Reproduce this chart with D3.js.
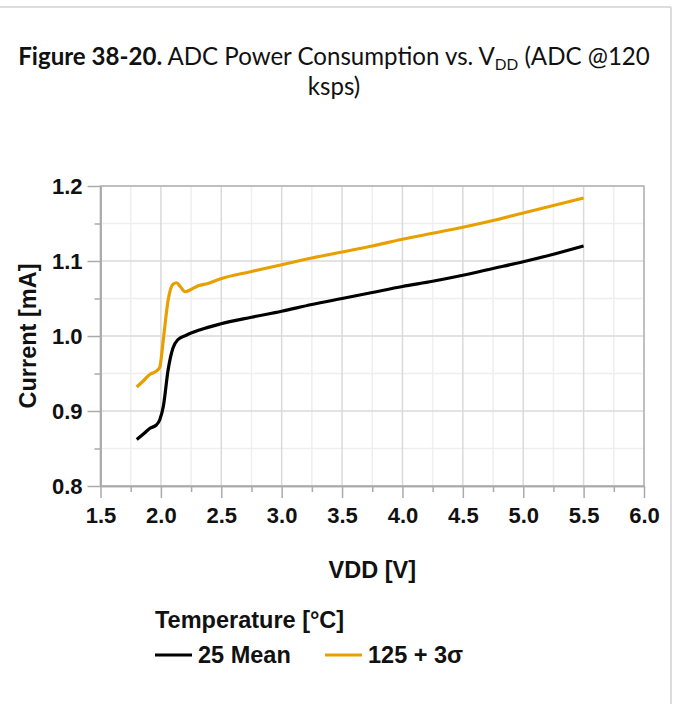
<!DOCTYPE html>
<html>
<head>
<meta charset="utf-8">
<script src="https://cdn.jsdelivr.net/npm/d3@7"></script>
<style>
  html, body { margin: 0; padding: 0; background: #fff; }
  svg { display: block; }
</style>
</head>
<body>
<svg id="chart" width="673" height="704"></svg>
<script>
// ---- data ----
const seriesNames = ["25 Mean", "125 + 3σ"];
const seriesColors = ["#000000", "#E8A000"];
const vdd25 = [1.80,1.86,1.91,1.96,1.99,2.02,2.06,2.10,2.14,2.21,2.32,2.49,2.75,3.0,3.25,3.5,3.75,4.0,4.25,4.5,4.75,5.0,5.25,5.5];
const cur25 = [0.862,0.870,0.877,0.881,0.888,0.906,0.955,0.984,0.995,1.001,1.008,1.016,1.025,1.033,1.042,1.050,1.058,1.066,1.073,1.081,1.090,1.099,1.109,1.120];
const vdd125 = [1.80,1.86,1.91,1.95,1.99,2.02,2.06,2.10,2.13,2.16,2.20,2.25,2.31,2.39,2.49,2.75,3.0,3.25,3.5,3.75,4.0,4.25,4.5,4.75,5.0,5.25,5.5];
const cur125 = [0.932,0.941,0.949,0.952,0.958,0.995,1.048,1.069,1.071,1.066,1.059,1.062,1.067,1.070,1.076,1.086,1.095,1.104,1.112,1.120,1.129,1.137,1.145,1.154,1.164,1.174,1.184];
const xMajorTicks = [1.5,2.0,2.5,3.0,3.5,4.0,4.5,5.0,5.5,6.0];
const xMinorTicks = [1.75,2.25,2.75,3.25,3.75,4.25,4.75,5.25,5.75];
const yMajorTicks = [0.8,0.9,1.0,1.1,1.2];
const yMinorTicks = [0.85,0.95,1.05,1.15];

const svg = d3.select("#chart");
const W = 673, H = 704;
const plot = {left: 100.5, right: 644, top: 186, bottom: 486};

// frame
svg.append("line").attr("x1",0).attr("x2",671).attr("y1",7).attr("y2",7).attr("stroke","#dcdcdc").attr("stroke-width",2);
svg.append("line").attr("x1",671).attr("x2",671).attr("y1",7).attr("y2",H).attr("stroke","#dcdcdc").attr("stroke-width",2);

// title
const titleFont = "Lato, 'Open Sans', sans-serif";
const t1 = svg.append("text").attr("x", 334).attr("y", 65).attr("text-anchor","middle")
  .style("font-family", titleFont).style("font-size","22px").attr("fill","#111");
t1.append("tspan").attr("font-weight","bold").text("Figure 38-20.");
t1.append("tspan").text(" ADC Power Consumption vs. V");
t1.append("tspan").attr("dy", 5).style("font-size","14px").text("DD");
t1.append("tspan").attr("dy", -5).text(" (ADC @120");
// fit width
const w1 = t1.node().getComputedTextLength();
const fs = 22 * 632 / w1;
t1.style("font-size", fs + "px");
t1.selectAll("tspan").filter((d,i)=>i===2).style("font-size", (fs*0.64)+"px");
svg.append("text").attr("x", 334).attr("y", 95).attr("text-anchor","middle")
  .style("font-family", titleFont).style("font-size", fs+"px").attr("fill","#111").text("ksps)");

// scales
const x = d3.scaleLinear().domain([1.5, 6.0]).range([plot.left, plot.right]);
const y = d3.scaleLinear().domain([0.8, 1.2]).range([plot.bottom, plot.top]);

// grid
const g = svg.append("g");
g.selectAll(".vminor").data(xMinorTicks).enter().append("line")
  .attr("x1", d=>x(d)).attr("x2", d=>x(d)).attr("y1", plot.top).attr("y2", plot.bottom)
  .attr("stroke", "#efefef").attr("stroke-width", 1.5);
g.selectAll(".hminor").data(yMinorTicks).enter().append("line")
  .attr("y1", d=>y(d)).attr("y2", d=>y(d)).attr("x1", plot.left).attr("x2", plot.right)
  .attr("stroke", "#efefef").attr("stroke-width", 1.5);
g.selectAll(".vmajor").data(xMajorTicks).enter().append("line")
  .attr("x1", d=>x(d)).attr("x2", d=>x(d)).attr("y1", plot.top).attr("y2", plot.bottom)
  .attr("stroke", "#dadada").attr("stroke-width", 1.5);
g.selectAll(".hmajor").data(yMajorTicks).enter().append("line")
  .attr("y1", d=>y(d)).attr("y2", d=>y(d)).attr("x1", plot.left).attr("x2", plot.right)
  .attr("stroke", "#dadada").attr("stroke-width", 1.5);
// plot border
svg.append("rect").attr("x", plot.left).attr("y", plot.top)
  .attr("width", plot.right-plot.left).attr("height", plot.bottom-plot.top)
  .attr("fill","none").attr("stroke","#b4b4b4").attr("stroke-width",1.5);

// axes
const tickFont = "'Liberation Sans', Arial, sans-serif";
function styleAxis(sel){
  sel.select(".domain").attr("stroke","#aaaaaa").attr("stroke-width",1.5);
  sel.selectAll(".tick line").attr("stroke","#aaaaaa").attr("stroke-width",1.5);
  sel.selectAll(".tick text").style("font-family", tickFont).style("font-size","22px")
    .style("font-weight","bold").attr("fill","#111");
}
const xAxis = svg.append("g").attr("transform", `translate(0,${plot.bottom})`)
  .call(d3.axisBottom(x).tickValues(xMajorTicks).tickFormat(d3.format(".1f")).tickSize(12).tickPadding(9).tickSizeOuter(0));
styleAxis(xAxis);
const xAxisMinor = svg.append("g").attr("transform", `translate(0,${plot.bottom})`)
  .call(d3.axisBottom(x).tickValues(xMinorTicks).tickFormat("").tickSize(6).tickSizeOuter(0));
styleAxis(xAxisMinor);
const yAxis = svg.append("g").attr("transform", `translate(${plot.left},0)`)
  .call(d3.axisLeft(y).tickValues(yMajorTicks).tickFormat(d3.format(".1f")).tickSize(13).tickPadding(5).tickSizeOuter(0));
styleAxis(yAxis);
const yAxisMinor = svg.append("g").attr("transform", `translate(${plot.left},0)`)
  .call(d3.axisLeft(y).tickValues(yMinorTicks).tickFormat("").tickSize(6).tickSizeOuter(0));
styleAxis(yAxisMinor);

// axis titles
const titleSize = "23.5px";
svg.append("text").attr("x", (plot.left+plot.right)/2).attr("y", 578).attr("text-anchor","middle")
  .style("font-family", tickFont).style("font-size",titleSize).style("font-weight","bold").attr("fill","#111")
  .text("VDD [V]");
svg.append("text").attr("transform", `translate(36,${(plot.top+plot.bottom)/2}) rotate(-90)`).attr("text-anchor","middle")
  .style("font-family", tickFont).style("font-size",titleSize).style("font-weight","bold").attr("fill","#111")
  .text("Current [mA]");

// lines
const line = d3.line().x(d=>x(d[0])).y(d=>y(d[1])).curve(d3.curveMonotoneX);
const series = [
  {name: seriesNames[0], color: seriesColors[0], pts: d3.zip(vdd25, cur25)},
  {name: seriesNames[1], color: seriesColors[1], pts: d3.zip(vdd125, cur125)}
];
svg.selectAll(".series").data(series).enter().append("path")
  .attr("d", d=>line(d.pts)).attr("fill","none").attr("stroke", d=>d.color)
  .attr("stroke-width", 3.2).attr("stroke-linejoin","round");

// legend
svg.append("text").attr("x", 155).attr("y", 628)
  .style("font-family", tickFont).style("font-size",titleSize).style("font-weight","bold").attr("fill","#111")
  .text("Temperature [°C]");
const legX = [155, 325];
series.forEach((s,i)=>{
  svg.append("line").attr("x1", legX[i]).attr("x2", legX[i]+37).attr("y1", 655).attr("y2", 655)
    .attr("stroke", s.color).attr("stroke-width", 3.2);
  svg.append("text").attr("x", legX[i]+43).attr("y", 663)
    .style("font-family", tickFont).style("font-size",titleSize).style("font-weight","bold").attr("fill","#111")
    .text(s.name);
});
</script>
</body>
</html>
